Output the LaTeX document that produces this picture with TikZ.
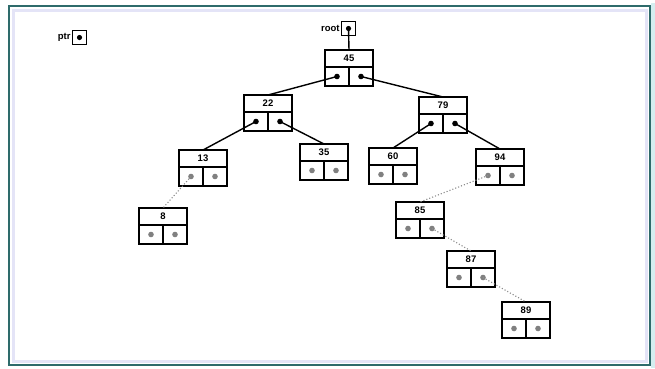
\documentclass[tikz,border=0pt]{standalone}
\usepackage{fontspec}
\setmainfont{Liberation Sans}
\definecolor{frameteal}{HTML}{2E6B6B}
\definecolor{framelav}{HTML}{E4E4F7}
\definecolor{framecyan}{HTML}{D4EEF0}
\definecolor{dotgrey}{HTML}{808080}
\definecolor{linkgrey}{HTML}{8C8C8C}
\tikzset{
  keybox/.style={draw, line width=1.4pt, minimum width=48, minimum height=17,
    inner sep=0pt, outer sep=0pt, font=\bfseries\fontsize{9.5}{11}\selectfont},
  cellbox/.style={draw, line width=1.4pt, minimum width=24, minimum height=19,
    inner sep=0pt, outer sep=0pt},
  ptrbox/.style={draw, line width=1.4pt, minimum width=14.5, minimum height=14.5,
    inner sep=0pt, outer sep=0pt},
  lbl/.style={inner sep=1.5pt, font=\bfseries\fontsize{9.5}{11}\selectfont},
  bdot/.style={fill=black},
  gdot/.style={fill=dotgrey},
  edge/.style={line width=1.4pt, black},
  weak/.style={line width=1.1pt, linkgrey, dotted},
  pics/tnode/.style 2 args={code={
    \node[keybox, anchor=north] (-key) at (0,0) {#1};
    \node[cellbox, anchor=north west] (-l) at (-key.south west) {};
    \node[cellbox, anchor=north east] (-r) at (-key.south east) {};
    \path[#2] (-l.center) circle[radius=2.8];
    \path[#2] (-r.center) circle[radius=2.8];
  }}
}
\begin{document}
\begin{tikzpicture}[x=1pt, y=-1pt]
  % page and frame
  \useasboundingbox (0,0) rectangle (655,368);
  \fill[white] (0,0) rectangle (655,368);
  \fill[framecyan] (651,3) rectangle (655,368);
  \draw[framelav, line width=3.5pt] (13.5,10.5) rectangle (646.5,361.5);
  \draw[frameteal, line width=2pt] (9,6) rectangle (650,365);

  % pointer variables
  \node[ptrbox] (ptr) at (79.5,37.5) {};
  \fill[black] (ptr.center) circle[radius=2.6];
  \node[lbl, anchor=east] (ptrlbl) at (ptr.west) {ptr};

  \node[ptrbox] (root) at (348.5,28.5) {};
  \fill[black] (root.center) circle[radius=2.6];
  \node[lbl, anchor=east] (rootlbl) at (root.west) {root};

  % tree nodes
  \pic (n45) at (349,50)  {tnode={45}{bdot}};
  \pic (n22) at (268,95)  {tnode={22}{bdot}};
  \pic (n79) at (443,97)  {tnode={79}{bdot}};
  \pic (n13) at (203,150) {tnode={13}{gdot}};
  \pic (n35) at (324,144) {tnode={35}{gdot}};
  \pic (n60) at (393,148) {tnode={60}{gdot}};
  \pic (n94) at (500,149) {tnode={94}{gdot}};
  \pic (n8)  at (163,208) {tnode={8}{gdot}};
  \pic (n85) at (420,202) {tnode={85}{gdot}};
  \pic (n87) at (471,251) {tnode={87}{gdot}};
  \pic (n89) at (526,302) {tnode={89}{gdot}};

  % solid links
  \draw[edge] (root.center) -- (n45-key.north);
  \draw[edge] (n45-l.center) -- (n22-key.north);
  \draw[edge] (n45-r.center) -- (n79-key.north);
  \draw[edge] (n22-l.center) -- (n13-key.north);
  \draw[edge] (n22-r.center) -- (n35-key.north);
  \draw[edge] (n79-l.center) -- (n60-key.north);
  \draw[edge] (n79-r.center) -- (n94-key.north);

  % dotted links
  \draw[weak] (n13-l.center) -- (n8-key.north);
  \draw[weak] (n94-l.center) -- (n85-key.north);
  \draw[weak] (n85-r.center) -- (n87-key.north);
  \draw[weak] (n87-r.center) -- (n89-key.north);
\end{tikzpicture}
\end{document}
